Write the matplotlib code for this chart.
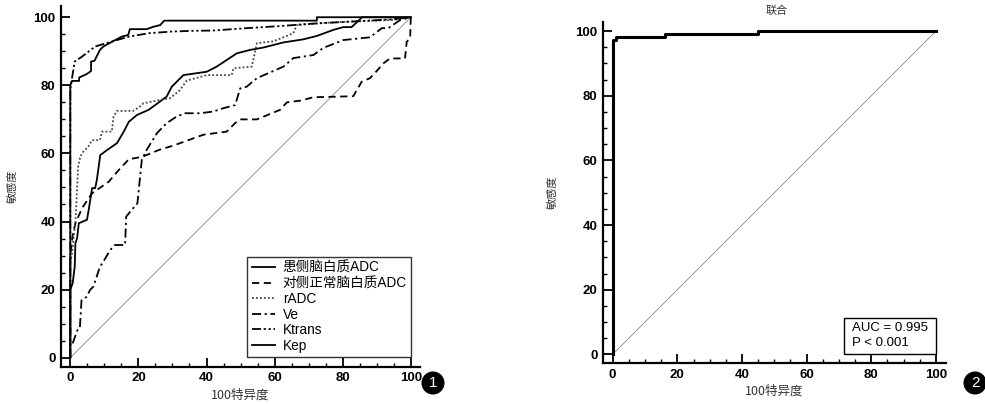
import matplotlib
matplotlib.use("Agg")
import matplotlib.pyplot as plt
from matplotlib.ticker import MultipleLocator
from matplotlib.patches import Rectangle

plt.rcParams['font.family'] = ['Liberation Sans', 'Noto Sans CJK SC', 'DejaVu Sans']

# ---------------- data (x = 100 - specificity, y = sensitivity) ----------------
series_names = ["患侧脑白质ADC", "对侧正常脑白质ADC", "rADC", "Ve", "Ktrans", "Kep"]

adc_affected_x = [0, 0, 0.7, 1.3, 1.5, 2.0, 2.5, 4.9, 5.5, 6.4, 7.3, 7.8, 8.8, 10.8, 13.7, 15.7, 17.2,
                  19.6, 23.0, 26.0, 28.3, 29.8, 33.2, 40.1, 43.0, 48.9, 52.8, 56.7, 62.6, 68.4, 72.4,
                  77.3, 80.2, 82.6, 85.1, 85.6, 100]
adc_affected_y = [0, 20.0, 21.9, 26.7, 33.6, 35.1, 39.5, 40.5, 44.0, 49.8, 49.8, 52.2, 59.5, 61.0, 63.0,
                  66.4, 69.3, 71.3, 72.8, 75.0, 76.7, 79.6, 83.0, 84.0, 85.5, 89.4, 90.4, 91.1, 92.6,
                  93.5, 94.5, 96.3, 97.1, 97.1, 99.4, 100, 100]

adc_contra_x = [0, 0, 0.7, 1.5, 3.5, 6.4, 11.3, 14.2, 17.2, 21.1, 26.0, 29.9, 32.2, 39.1, 45.9, 48.5,
                49.9, 54.8, 61.6, 63.6, 67.5, 71.4, 83.1, 85.6, 88.0, 89.9, 92.0, 93.9, 98.3, 98.8,
                99.8, 100]
adc_contra_y = [0, 30.0, 36.0, 39.5, 44.0, 48.3, 51.7, 55.1, 58.3, 59.0, 61.0, 62.2, 63.0, 65.5, 66.4,
                69.0, 70.0, 70.0, 72.8, 75.0, 75.5, 76.5, 76.8, 81.1, 82.1, 84.1, 86.5, 87.9, 87.9,
                92.8, 93.8, 100]

radc_x = [0, 0, 0.5, 1.1, 1.5, 2.3, 2.9, 3.8, 5.3, 6.4, 8.7, 9.3, 12.2, 12.7, 13.7, 18.5, 20.5, 21.4,
          26.3, 29.3, 32.2, 34.2, 40.1, 47.4, 47.9, 53.3, 54.8, 59.6, 65.5, 66.5, 72.4, 81.2, 94.9, 100]
radc_y = [0, 28.0, 30.5, 36.5, 39.5, 56.1, 59.0, 60.5, 62.0, 63.9, 63.9, 66.4, 66.4, 70.8, 72.5, 72.5,
          73.8, 74.7, 75.7, 76.2, 78.6, 81.4, 83.0, 83.0, 85.0, 85.5, 92.4, 92.9, 95.3, 97.7, 98.2,
          98.7, 99.2, 100]

ve_x = [0.7, 1.4, 2.1, 2.8, 3.3, 4.8, 5.8, 6.8, 8.7, 9.7, 11.7, 13.1, 16.1, 16.4, 18.0, 19.7, 21.0,
        22.4, 25.4, 28.3, 31.2, 33.7, 38.1, 42.0, 45.0, 48.4, 49.9, 51.8, 54.8, 62.6, 65.5, 71.4,
        74.3, 80.2, 88.0, 91.5, 93.4, 96.9, 100]
ve_y = [4.2, 6.2, 8.1, 8.6, 16.9, 17.9, 19.9, 20.9, 26.7, 28.2, 31.6, 33.1, 33.1, 41.4, 43.4, 45.3,
        58.1, 61.0, 65.9, 68.9, 70.8, 71.8, 71.8, 72.3, 73.3, 74.2, 79.1, 79.6, 82.1, 85.5, 88.0,
        88.9, 91.0, 93.3, 94.1, 96.8, 96.8, 99.2, 100]

ktrans_x = [0, 0, 1.3, 3.4, 7.3, 11.3, 17.2, 23.0, 29.9, 35.8, 42.0, 51.8, 61.6, 69.4, 76.3, 86.0,
            94.8, 100]
ktrans_y = [0, 79.0, 87.0, 88.4, 91.4, 92.6, 94.3, 95.3, 95.8, 96.0, 96.1, 96.8, 97.4, 98.0, 98.4,
            98.9, 99.4, 100]

kep_x = [0, 0, 0.5, 2.6, 2.6, 4.8, 6.1, 6.1, 7.1, 8.7, 9.7, 11.7, 15.1, 17.0, 17.5, 22.4, 24.4,
         26.4, 27.6, 72.4, 72.4, 100]
kep_y = [0, 80.0, 81.3, 81.3, 82.3, 83.3, 84.2, 87.0, 87.2, 90.4, 91.4, 92.5, 94.3, 94.8, 96.5,
         96.5, 97.2, 97.7, 99.0, 99.0, 100, 100]

combined_x = [0, 0, 1.0, 1.0, 16.2, 16.2, 45.0, 45.0, 100]
combined_y = [0, 97.3, 97.3, 98.2, 98.2, 99.0, 99.0, 100, 100]

ref_x = [0, 100]
ref_y = [0, 100]

ticks = [0, 20, 40, 60, 80, 100]
auc_lines = ["AUC = 0.995", "P < 0.001"]
x_label = "100特异度"
y_label = "敏感度"
right_title = "联合"

# ---------------- figure ----------------
W, H = 985, 404
fig = plt.figure(figsize=(W / 100, H / 100), dpi=100)

cjk = ['Noto Sans CJK SC', 'DejaVu Sans']
latin_cjk = ['Liberation Sans', 'Noto Sans CJK SC', 'DejaVu Sans']


def style_axes(ax, xlim, ylim, ylabelpad):
    ax.set_xlim(*xlim)
    ax.set_ylim(*ylim)
    for s in ("top", "right"):
        ax.spines[s].set_visible(False)
    for s in ("left", "bottom"):
        ax.spines[s].set_linewidth(1.6)
    ax.set_xticks(ticks)
    ax.set_yticks(ticks)
    ax.xaxis.set_minor_locator(MultipleLocator(5))
    ax.yaxis.set_minor_locator(MultipleLocator(5))
    ax.tick_params(which="major", direction="in", length=6.5, width=1.3, labelsize=9.5, pad=4)
    ax.tick_params(which="minor", direction="in", length=3, width=1.0)
    for lab in ax.get_xticklabels() + ax.get_yticklabels():
        lab.set_fontweight("bold")
    ax.set_xlabel(x_label, family=cjk, fontsize=9, color="#333333", labelpad=3)
    ax.set_ylabel(y_label, family=cjk, fontsize=8, color="#333333", labelpad=ylabelpad)


# ----- left panel -----
ax1 = fig.add_axes([61 / W, 1 - 366.7 / H, (420 - 61) / W, (366.7 - 6) / H])
style_axes(ax1, (-2.73, 102.7), (-2.64, 103.3), 11)
ax1.plot(ref_x, ref_y, color="#888888", lw=0.6)
lw = 1.3
ax1.plot(adc_affected_x, adc_affected_y, color="black", lw=lw, ls="-", label=series_names[0])
ax1.plot(adc_contra_x, adc_contra_y, color="black", lw=lw, ls=(0, (4, 2.5)), label=series_names[1])
ax1.plot(radc_x, radc_y, color="#444444", lw=lw, ls=(0, (1, 1.2)), label=series_names[2])
ax1.plot(ve_x, ve_y, color="black", lw=lw, ls=(0, (5, 2, 1.2, 2)), label=series_names[3])
ax1.plot(ktrans_x, ktrans_y, color="black", lw=lw, ls=(0, (5, 1.5, 1.2, 1.5, 1.2, 1.5)), label=series_names[4])
ax1.plot(kep_x, kep_y, color="black", lw=lw, ls="-", label=series_names[5])
leg = ax1.legend(loc="lower right", bbox_to_anchor=(0.975, 0.027), frameon=True, fancybox=False,
                 prop={"family": latin_cjk, "size": 9.8}, handlelength=1.75, handletextpad=0.55,
                 labelspacing=0.12, borderpad=0.3, borderaxespad=0)
leg.get_frame().set_edgecolor("black")
leg.get_frame().set_linewidth(1.0)

# ----- right panel -----
ax2 = fig.add_axes([603.3 / W, 1 - 363.3 / H, (946 - 603.3) / W, (363.3 - 21.7) / H])
style_axes(ax2, (-2.9, 103.1), (-2.78, 102.9), 13)
ax2.plot(ref_x, ref_y, color="#888888", lw=0.6)
ax2.plot(combined_x, combined_y, color="black", lw=2.2)
ax2.add_patch(Rectangle((71.5, 0), 28.5, 11.3, fc="white", ec="black", lw=1.0, zorder=3))
ax2.text(74.0, 8.1, auc_lines[0], ha="left", va="center", fontsize=9.5, zorder=4)
ax2.text(74.0, 3.5, auc_lines[1], ha="left", va="center", fontsize=9.5, zorder=4)
fig.text(776.7 / W, 1 - 11 / H, right_title, family=cjk, fontsize=8, ha="center", va="center",
         color="#333333")

# ----- panel markers -----
for (px, py, t) in [(433, 383, "1"), (975, 383, "2")]:
    fig.text(px / W, 1 - py / H, t, color="white", fontsize=11, ha="center", va="center",
             bbox=dict(boxstyle="circle,pad=0.25", fc="black", ec="black"))

fig.savefig("out.png", dpi=100)
